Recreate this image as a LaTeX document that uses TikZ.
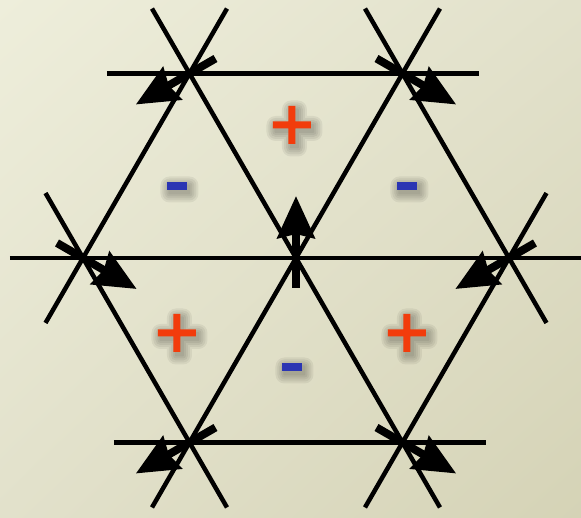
\documentclass[tikz,border=0pt]{standalone}
\usepackage{xcolor}
\usepackage{tikz}
\usetikzlibrary{
  arrows.meta,
  calc,
  shadings
}

\definecolor{bgtop}{RGB}{238,238,219}
\definecolor{bgmid}{RGB}{226,225,203}
\definecolor{bgbot}{RGB}{213,211,182}
\definecolor{plusred}{RGB}{242,60,12}
\definecolor{minusblue}{RGB}{43,53,179}

\begin{document}
\begin{tikzpicture}[
  bond/.style={draw=black, line width=0.09cm, line cap=butt},
  spin/.style={draw=black, line width=0.16cm,
    -{Stealth[length=0.84cm, width=0.74cm, inset=0.08cm]}},
  shadowlayer/.style={fill=black!80!bgbot, fill opacity=0.07},
  plussign/.style={fill=plusred},
  minussign/.style={fill=minusblue}
]

% ============ BACKGROUND ============
\useasboundingbox (-5.92,-5.20) rectangle (5.70,5.16);
\shade[upper left=bgtop, upper right=bgmid, lower left=bgmid, lower right=bgbot]
  (-5.92,-5.20) rectangle (5.70,5.16);

% ============ LATTICE SITES ============
\coordinate (C)  at (0,0);
\coordinate (TL) at (-2.13, 3.69);
\coordinate (TR) at ( 2.13, 3.69);
\coordinate (L)  at (-4.26, 0);
\coordinate (R)  at ( 4.26, 0);
\coordinate (BL) at (-2.13,-3.69);
\coordinate (BR) at ( 2.13,-3.69);

% ============ BONDS ============
\draw[bond] (-3.78, 3.69) -- (3.66, 3.69);
\draw[bond] (-5.72, 0) -- (5.75, 0);
\draw[bond] (-3.64,-3.69) -- (3.80,-3.69);
\draw[bond] ($(TL)+(120:1.5)$) -- ($(BR)+(-60:1.5)$);
\draw[bond] ($(TR)+(60:1.5)$) -- ($(BL)+(240:1.5)$);
\draw[bond] ($(TL)+(60:1.5)$) -- ($(L)+(240:1.5)$);
\draw[bond] ($(L)+(120:1.5)$) -- ($(BL)+(-60:1.5)$);
\draw[bond] ($(TR)+(120:1.5)$) -- ($(R)+(-60:1.5)$);
\draw[bond] ($(R)+(60:1.5)$) -- ($(BR)+(240:1.5)$);

% ============ SPINS ============
\foreach \v/\a in {TL/210, TR/-30, L/-30, R/210, BL/210, BR/-30, C/90}
  \draw[spin] ($(\v)+(\a+180:0.6)$) -- ($(\v)+(\a:1.24)$);

% ============ CHARGES (with soft shadow) ============
\foreach \x/\y in {-0.08/2.66, -2.38/-1.50, 2.22/-1.50} {
  \foreach \r in {0.02,0.06,0.10,0.14,0.18}
    \fill[shadowlayer, rounded corners=\r cm]
      (\x-0.33-\r,\y-0.14-\r) rectangle ++(0.76+2*\r,0.14+2*\r)
      (\x-0.02-\r,\y-0.45-\r) rectangle ++(0.14+2*\r,0.76+2*\r);
  \fill[plussign] (\x-0.38,\y-0.07) rectangle ++(0.76,0.14)
                  (\x-0.07,\y-0.38) rectangle ++(0.14,0.76);
}
\foreach \x/\y in {-2.38/1.44, 2.22/1.44, -0.08/-2.18} {
  \foreach \r in {0.02,0.06,0.10,0.14,0.18}
    \fill[shadowlayer, rounded corners=\r cm]
      (\x-0.15-\r,\y-0.15-\r) rectangle ++(0.40+2*\r,0.16+2*\r);
  \fill[minussign] (\x-0.20,\y-0.08) rectangle ++(0.40,0.16);
}

\end{tikzpicture}
\end{document}
